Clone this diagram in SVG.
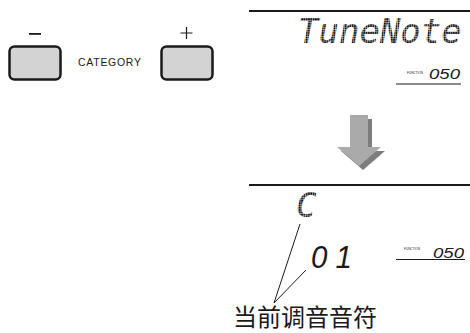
<svg xmlns="http://www.w3.org/2000/svg" width="470" height="333" viewBox="0 0 470 333">
<defs>
<pattern id="dots" width="2.3" height="2.3" patternUnits="userSpaceOnUse">
<rect x="0" y="0" width="1.9" height="1.9" fill="#111"/>
</pattern>
<style>
.btn{fill:#d3d3d3;stroke:#1a1a1a;stroke-width:2.5}
.rule{stroke:#1a1a1a;stroke-width:2;fill:none}
.thin{stroke:#1a1a1a;stroke-width:1.2;fill:none}
.lead{stroke:#1a1a1a;stroke-width:1;fill:none}
.lbl{font-family:"Liberation Sans",Arial,sans-serif;fill:#1a1a1a}
.dot{font-family:"DejaVu Sans Mono","Liberation Mono",monospace;font-style:italic;font-weight:normal;fill:url(#dots)}
.seg{font-family:"Liberation Sans",Arial,sans-serif;font-style:italic;fill:#1a1a1a}
.cjk{font-family:"Noto Sans CJK SC","Noto Sans",sans-serif;fill:#1a1a1a}
</style>
</defs>
<g id="btn-minus">
<rect class="btn" x="9.5" y="46.5" width="51" height="33" rx="5"/>
<rect x="29" y="33" width="12" height="1.8" fill="#1a1a1a"/>
</g>
<g id="category-label">
<text class="lbl" x="78" y="66" font-size="10.5" textLength="63">CATEGORY</text>
</g>
<g id="btn-plus">
<rect class="btn" x="161.5" y="46.5" width="51" height="33" rx="5"/>
<path class="thin" d="M180.5 33H192.5M186.5 27V39"/>
</g>
<g id="display-top">
<line class="rule" x1="249" y1="11" x2="470" y2="11"/>
<text class="dot" x="298" y="43" font-size="34">TuneNote</text>
<text class="lbl" x="407" y="74" font-size="4" textLength="16" lengthAdjust="spacingAndGlyphs">FUNCTION</text>
<text class="seg" x="429" y="79" font-size="14" textLength="31" lengthAdjust="spacingAndGlyphs">050</text>
<line class="thin" x1="396" y1="84" x2="461" y2="84"/>
</g>
<g id="arrow">
<polygon points="354,119 372,119 372,151 385,151 363,170 341,151 354,151" fill="#7d7d7d"/>
<polygon points="350,115 368,115 368,147 381,147 359,166 337,147 350,147" fill="#aaaaaa"/>
</g>
<g id="display-bottom">
<line class="rule" x1="249" y1="185" x2="470" y2="185"/>
<text class="dot" x="296" y="217" font-size="34">C</text>
<text class="seg" x="311" y="268" font-size="31" textLength="41" lengthAdjust="spacingAndGlyphs">0 1</text>
<text class="lbl" x="404" y="250" font-size="4" textLength="16" lengthAdjust="spacingAndGlyphs">FUNCTION</text>
<text class="seg" x="433" y="258" font-size="14" textLength="31" lengthAdjust="spacingAndGlyphs">050</text>
<line class="thin" x1="396" y1="259.5" x2="465" y2="259.5"/>
</g>
<g id="connectors">
<line class="lead" x1="274" y1="303" x2="300" y2="224"/>
<line class="lead" x1="274" y1="303" x2="306" y2="270"/>
</g>
<g id="caption">
<text class="cjk" x="233" y="326" font-size="24">当前调音音符</text>
</g>
</svg>
